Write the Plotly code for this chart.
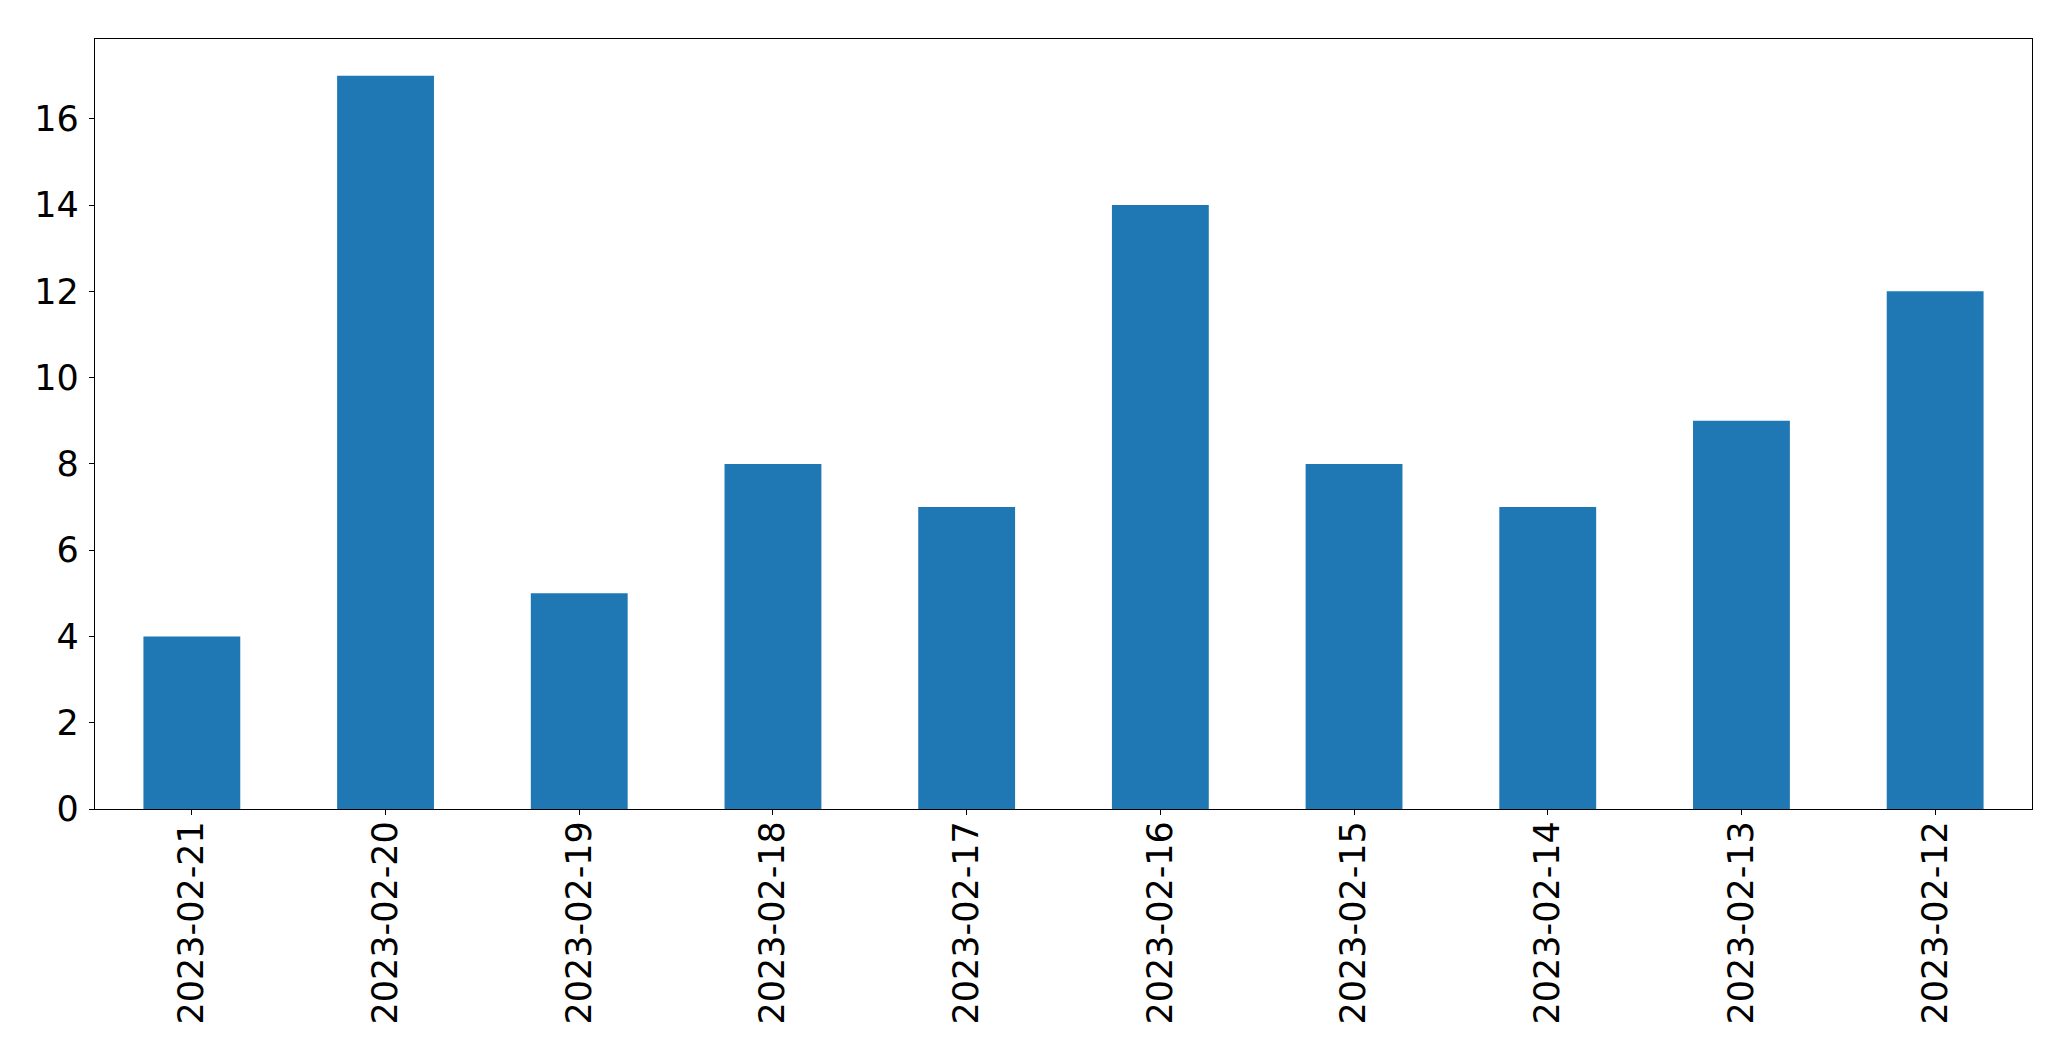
import plotly.graph_objects as go

dates = ["2023-02-21", "2023-02-20", "2023-02-19", "2023-02-18", "2023-02-17",
         "2023-02-16", "2023-02-15", "2023-02-14", "2023-02-13", "2023-02-12"]
counts = [4, 17, 5, 8, 7, 14, 8, 7, 9, 12]
y_ticks = [0, 2, 4, 6, 8, 10, 12, 14, 16]

fig = go.Figure(go.Bar(x=dates, y=counts, marker=dict(color="#1f77b4", line=dict(width=0))))

axis_common = dict(showline=True, linecolor="black", linewidth=1.3, mirror=True,
                   ticks="outside", ticklen=5, tickwidth=1.3, tickcolor="black",
                   showgrid=False, zeroline=False, automargin=False,
                   tickfont=dict(family="DejaVu Sans", size=35, color="black"))

# page body has an 8px default margin, so margins are offset by 8px
fig.update_layout(
    template="none",
    width=2071, height=1061,
    margin=dict(l=87, r=47, t=31, b=260, pad=0),
    plot_bgcolor="white", paper_bgcolor="white",
    bargap=0.5, showlegend=False,
    xaxis=dict(type="category", tickangle=-90, range=[-0.5, 9.5], ticklabelstandoff=-8, **axis_common),
    yaxis=dict(range=[0, 17.85], tickvals=y_ticks, ticklabelstandoff=3, **axis_common),
)

fig.write_html("out.html")
